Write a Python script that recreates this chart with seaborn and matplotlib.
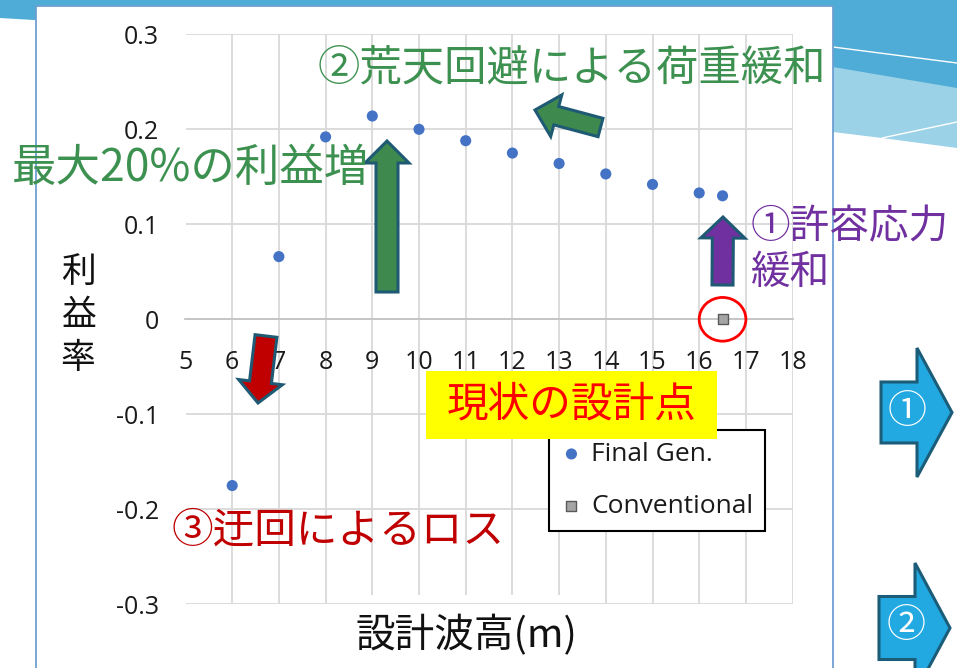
import numpy as np
import pandas as pd
import matplotlib
matplotlib.use("Agg")
import matplotlib.pyplot as plt
import seaborn as sns
from matplotlib.patches import Polygon, Rectangle, Ellipse
from matplotlib.lines import Line2D

# ---- data -------------------------------------------------------------
wave_height = [6, 7, 8, 9, 10, 11, 12, 13, 14, 15, 16, 16.5]
profit_final = [-0.175, 0.066, 0.192, 0.214, 0.200, 0.188, 0.175, 0.164,
                0.153, 0.142, 0.133, 0.130]
wave_height_conv = [16.5]
profit_conv = [0.0]

x_ticks = list(range(5, 19))
y_ticks = [-0.3, -0.2, -0.1, 0.0, 0.1, 0.2, 0.3]
y_tick_labels = ["-0.3", "-0.2", "-0.1", "0", "0.1", "0.2", "0.3"]

series_names = ["Final Gen.", "Conventional"]
x_label = "設計波高(m)"
y_label = "利\n益\n率"

# ---- figure setup -------------------------------------------------------
W, H = 957, 668
sns.set_theme(style="white")
plt.rcParams["font.family"] = ["Open Sans", "Noto Sans CJK JP", "DejaVu Sans"]
JP = ["Noto Sans CJK JP", "DejaVu Sans"]

fig = plt.figure(figsize=(W / 100, H / 100), dpi=100)
fig.patch.set_facecolor("white")


def px(x, y):
    """Pixel position (origin top-left) -> figure fraction."""
    return (x / W, 1 - y / H)


def poly(points, **kw):
    p = Polygon([px(*pt) for pt in points], closed=True,
                transform=fig.transFigure, **kw)
    fig.add_artist(p)
    return p


def block_arrow(tail, tip, shaft_w, head_w, head_len, fc, ec, lw=2.2, z=4):
    t = np.array(tail, float)
    h = np.array(tip, float)
    d = h - t
    u = d / np.hypot(*d)
    n = np.array([-u[1], u[0]])
    b = h - u * head_len
    pts = [t + n * shaft_w / 2, b + n * shaft_w / 2, b + n * head_w / 2, h,
           b - n * head_w / 2, b - n * shaft_w / 2, t - n * shaft_w / 2]
    poly(pts, facecolor=fc, edgecolor=ec, lw=lw, joinstyle="miter", zorder=z)


# ---- slide background ---------------------------------------------------
poly([(833, 0), (957, 0), (957, 148), (882, 138), (833, 132)],
     facecolor="#9bd2e7", edgecolor="none", zorder=-6)
poly([(0, 0), (957, 0), (957, 88), (833, 67), (0, 18)],
     facecolor="#4eacd6", edgecolor="none", zorder=-5)
for (x0, y0), (x1, y1) in [((833, 47), (957, 63)), ((882, 138), (957, 122))]:
    fig.add_artist(Line2D([x0 / W, x1 / W], [1 - y0 / H, 1 - y1 / H],
                          transform=fig.transFigure, color="white", lw=1,
                          zorder=-4))
panel = Rectangle(px(36, 680), 797 / W, 674 / H, transform=fig.transFigure,
                  facecolor="white", edgecolor="#6d9fd0", lw=1.3, zorder=-3)
fig.add_artist(panel)

# ---- chart ---------------------------------------------------------------
ax = fig.add_axes([185.5 / W, 1 - 604.3 / H, 607.1 / W, 570 / H])
ax.set_facecolor("white")

df_final = pd.DataFrame({"設計波高": wave_height, "利益率": profit_final})
df_conv = pd.DataFrame({"設計波高": wave_height_conv, "利益率": profit_conv})

sns.scatterplot(data=df_final, x="設計波高", y="利益率", ax=ax,
                color="#4472c4", s=64, edgecolor="none",
                label=series_names[0], legend=False, zorder=5)
sns.scatterplot(data=df_conv, x="設計波高", y="利益率", ax=ax,
                marker="s", color="#a5a5a5", s=42, edgecolor="#595959",
                linewidth=1.0, label=series_names[1], legend=False, zorder=5)

ax.set_xlim(5, 18)
ax.set_ylim(-0.3, 0.3)
ax.set_xticks(x_ticks)
ax.set_yticks(y_ticks)
ax.set_yticklabels(y_tick_labels)
ax.grid(True, color="#d9d9d9", lw=1.3)
ax.set_axisbelow(True)
for side in ["top", "right", "left"]:
    ax.spines[side].set_visible(False)
ax.spines["bottom"].set_position(("data", 0))
ax.spines["bottom"].set_color("#c4c4c4")
ax.spines["bottom"].set_linewidth(1.3)
ax.tick_params(axis="both", length=0, labelsize=18, colors="#1a1a1a")
ax.tick_params(axis="x", pad=22)
ax.tick_params(axis="y", pad=19)

ax.set_xlabel(x_label, fontsize=28.5, family=JP, color="#111111",
              bbox=dict(boxstyle="square,pad=0.5", facecolor="white",
                        edgecolor="none"))
ax.xaxis.set_label_coords(0.462, -0.055)
ax.xaxis.label.set_va("center")
ax.set_ylabel(y_label, fontsize=25, family=JP, rotation=0, linespacing=1.3,
              color="#111111", ha="center", va="center")
ax.yaxis.set_label_coords(-0.177, 0.506)

# circle marking the conventional design point
ax.add_patch(Ellipse((wave_height_conv[0], profit_conv[0]), 1.0, 0.046,
                     fill=False, edgecolor="#ff0000", lw=2, zorder=6))

leg = ax.legend(loc="upper left", bbox_to_anchor=px(549, 430),
                bbox_transform=fig.transFigure, frameon=True, fancybox=False,
                edgecolor="black", facecolor="white", framealpha=1,
                fontsize=19, borderpad=0.45, handlelength=0.8,
                handletextpad=0.36, labelspacing=1.03, borderaxespad=0)
leg.get_frame().set_linewidth(1.5)
for t in leg.get_texts():
    t.set_color("#1a1a1a")

# ---- annotations ---------------------------------------------------------
EDGE = "#1f5a74"
GREEN_TXT = "#3d9150"
block_arrow((387, 292), (387, 141), 22, 44, 22, "#3e8a4e", EDGE)
block_arrow((600.5, 127.5), (535, 110), 19, 43, 22, "#3e8a4e", EDGE)
block_arrow((722.5, 285), (723, 217), 21, 44, 21, "#7030a0", EDGE)
block_arrow((266, 336), (258, 403), 22, 44, 21, "#c00000", EDGE)

fig.text(*px(318, 68), "②荒天回避による荷重緩和", ha="left", va="center",
         fontsize=30.5, color=GREEN_TXT, family=JP, zorder=5)
fig.text(*px(12, 168), "最大20%の利益増", ha="left", va="center",
         fontsize=32, color=GREEN_TXT, family=JP, zorder=5)
fig.text(*px(751, 227), "①許容応力", ha="left", va="center",
         fontsize=28.5, color="#7030a0", family=JP, zorder=5)
fig.text(*px(751, 273), "緩和", ha="left", va="center",
         fontsize=28.5, color="#7030a0", family=JP, zorder=5)
fig.text(*px(172, 531), "③迂回によるロス", ha="left", va="center",
         fontsize=30, color="#c00000", family=JP, zorder=5)

fig.add_artist(Rectangle(px(426, 439), 291 / W, 68 / H,
                         transform=fig.transFigure, facecolor="#ffff00",
                         edgecolor="none", zorder=4))
fig.text(*px(571.5, 405), "現状の設計点", ha="center", va="center",
         fontsize=30, color="#ff0000", family=JP, zorder=5)

# side navigation arrows
block_arrow((881, 412.5), (952, 412.5), 61, 129, 35, "#23a9e1", "#1b5c78")
block_arrow((879, 628), (950, 628), 63, 130, 35, "#23a9e1", "#1b5c78")
fig.text(*px(907, 412), "①", ha="center", va="center", fontsize=28,
         color="white", family=["DejaVu Serif", "Noto Sans CJK JP"], zorder=5)
fig.text(*px(906, 627), "②", ha="center", va="center", fontsize=28,
         color="white", family=["DejaVu Serif", "Noto Sans CJK JP"], zorder=5)

fig.savefig("out.png", dpi=100, facecolor=fig.get_facecolor())
